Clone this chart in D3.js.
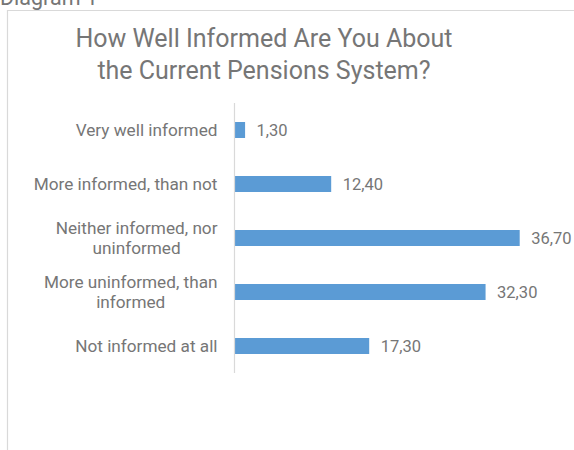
<!DOCTYPE html>
<html>
<head>
<meta charset="utf-8">
<script src="https://cdn.jsdelivr.net/npm/d3@7"></script>
<style>
  html, body { margin: 0; padding: 0; background: #fff; }
  svg { display: block; font-family: Roboto, "Open Sans", sans-serif; }
</style>
</head>
<body>
<svg id="chart" width="574" height="450"></svg>
<script>
// Survey answers, top to bottom, each label split into its display lines
const categories = [
  ["Very well informed"],
  ["More informed, than not"],
  ["Neither informed, nor", "uninformed"],
  ["More uninformed, than", "informed"],
  ["Not informed at all"]
];
const values = [1.3, 12.4, 36.7, 32.3, 17.3];
const valueLabels = ["1,30", "12,40", "36,70", "32,30", "17,30"];
const titleLines = ["How Well Informed Are You About", "the Current Pensions System?"];
const captionText = "Diagram 1";

const svg = d3.select("#chart");
const textColor = "#767676";
const barColor = "#5b9bd5";
const frameColor = "#d9d9d9";

// Caption above the chart frame
svg.append("text")
  .attr("x", 0).attr("y", 4.5)
  .attr("font-size", 21.5).attr("fill", textColor)
  .text(captionText);

// Chart frame (left and top edges visible)
svg.append("path")
  .attr("d", "M7.5,450 V10.5 H574")
  .attr("fill", "none").attr("stroke", frameColor).attr("stroke-width", 1.2);

// Title
svg.append("text")
  .attr("x", 264).attr("y", 47)
  .attr("text-anchor", "middle").attr("font-size", 25).attr("fill", textColor)
  .selectAll("tspan").data(titleLines).join("tspan")
  .attr("x", 264).attr("dy", (d, i) => i === 0 ? 0 : 32)
  .text(d => d);

const idx = d3.range(values.length);
const y = d3.scaleBand().domain(idx).range([103, 373])
  .paddingInner(0.7037).paddingOuter(0.35185);
const x = d3.scaleLinear().domain([0, 40]).range([235, 545.3]);

// Bars
svg.append("g").selectAll("rect").data(idx).join("rect")
  .attr("x", x(0))
  .attr("y", i => y(i))
  .attr("width", i => x(values[i]) - x(0))
  .attr("height", y.bandwidth())
  .attr("fill", barColor);

// Value labels
svg.append("g").selectAll("text").data(idx).join("text")
  .attr("x", i => x(values[i]) + 11.5)
  .attr("y", i => y(i) + y.bandwidth() / 2)
  .attr("dy", "0.35em")
  .attr("font-size", 16.5).attr("fill", textColor)
  .text(i => valueLabels[i]);

// Category axis line
svg.append("line")
  .attr("x1", x(0) - 0.5).attr("x2", x(0) - 0.5)
  .attr("y1", 103).attr("y2", 373)
  .attr("stroke", frameColor).attr("stroke-width", 1.2);

// Category labels: block right-aligned, lines centered on each other
const labelRight = 217.5;
const lineH = 20;
const labelG = svg.append("g");
idx.forEach(i => {
  const lines = categories[i];
  const cy = y(i) + y.bandwidth() / 2;
  const t = labelG.append("text")
    .attr("font-size", 17.2).attr("fill", textColor)
    .attr("text-anchor", "middle");
  lines.forEach((ln, k) => {
    t.append("tspan").attr("y", cy + (k - (lines.length - 1) / 2) * lineH)
      .attr("dy", "0.35em").text(ln);
  });
  // measure widest line, then center the block so its right edge sits at labelRight
  let w = 0;
  t.selectAll("tspan").each(function () { w = Math.max(w, this.getComputedTextLength()); });
  t.selectAll("tspan").attr("x", labelRight - w / 2);
});
</script>
</body>
</html>
